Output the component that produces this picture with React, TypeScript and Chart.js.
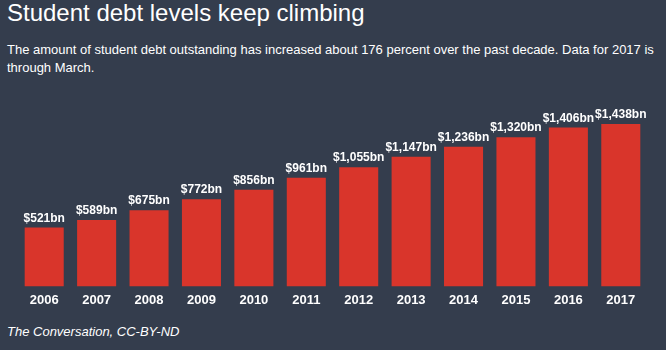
import React, { useEffect, useRef } from "react";
import { Chart, registerables } from "chart.js";

Chart.register(...registerables);

const years = ["2006", "2007", "2008", "2009", "2010", "2011", "2012", "2013", "2014", "2015", "2016", "2017"];
const debtBn = [521, 589, 675, 772, 856, 961, 1055, 1147, 1236, 1320, 1406, 1438];

const BG = "#343d4d";
const BAR = "#d9352b";
const FONT = "'Liberation Sans', Arial, Helvetica, sans-serif";

const fmt = (v: number) => "$" + v.toLocaleString("en-US") + "bn";

const labelPlugin = {
  id: "valueLabels",
  afterDatasetsDraw(chart: any) {
    const ctx = chart.ctx;
    const meta = chart.getDatasetMeta(0);
    ctx.save();
    ctx.fillStyle = "#ffffff";
    ctx.font = "bold 12px " + FONT;
    ctx.textAlign = "center";
    ctx.textBaseline = "alphabetic";
    meta.data.forEach((bar: any, i: number) => {
      ctx.fillText(fmt(debtBn[i]), bar.x, bar.y - 6);
    });
    ctx.restore();
  },
};

export default function App() {
  const ref = useRef<HTMLCanvasElement>(null);
  useEffect(() => {
    if (!ref.current) return;
    const chart = new Chart(ref.current, {
      type: "bar",
      data: {
        labels: years,
        datasets: [
          {
            data: debtBn,
            backgroundColor: BAR,
            borderWidth: 0,
            categoryPercentage: 1,
            barPercentage: 0.745,
          },
        ],
      },
      options: {
        animation: false,
        responsive: false,
        maintainAspectRatio: false,
        layout: { padding: { left: 18, right: 19, top: 27, bottom: 1 } },
        plugins: { legend: { display: false }, tooltip: { enabled: false } },
        scales: {
          x: {
            grid: { display: false, drawTicks: false },
            border: { display: false },
            ticks: {
              color: "#ffffff",
              padding: 6,
              font: { family: FONT, size: 13, weight: "bold" },
              maxRotation: 0,
            },
          },
          y: {
            display: false,
            min: 0,
            max: 1500,
          },
        },
      },
      plugins: [labelPlugin],
    });
    return () => chart.destroy();
  }, []);

  return (
    <div
      style={{
        position: "fixed",
        left: 0,
        top: 0,
        width: 666,
        height: 350,
        background: BG,
        color: "#ffffff",
        fontFamily: FONT,
        overflow: "hidden",
      }}
    >
      <div style={{ position: "absolute", left: 7, top: -2, fontSize: 24, lineHeight: "30px", whiteSpace: "nowrap" }}>
        Student debt levels keep climbing
      </div>
      <div style={{ position: "absolute", left: 7, top: 41, width: 655, fontSize: 13, lineHeight: "18px", fontWeight: "normal" }}>
        The amount of student debt outstanding has increased about 176 percent over the past decade. Data for 2017 is through March.
      </div>
      <canvas ref={ref} width={666} height={225} style={{ position: "absolute", left: 0, top: 90, width: 666, height: 225 }} />
      <div style={{ position: "absolute", left: 7, top: 323, fontSize: 13, lineHeight: "18px", fontStyle: "italic", whiteSpace: "nowrap" }}>
        The Conversation, CC-BY-ND
      </div>
    </div>
  );
}
